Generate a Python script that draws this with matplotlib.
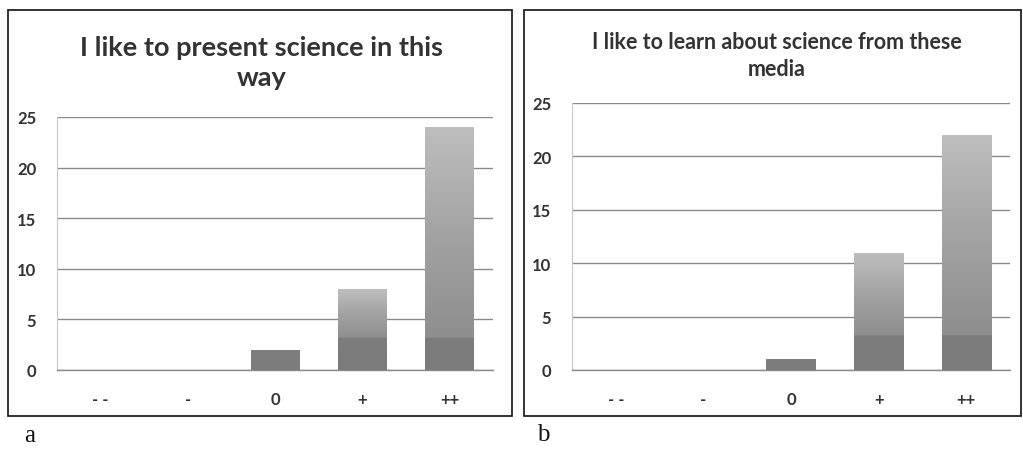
import numpy as np
import matplotlib
matplotlib.use("Agg")
import matplotlib.pyplot as plt
from matplotlib.patches import Rectangle
from matplotlib.colors import LinearSegmentedColormap

categories = ["- -", "-", "0", "+", "++"]
values_a = [0, 0, 2, 8, 24]
values_b = [0, 0, 1, 11, 22]
title_a = "I like to present science in this\nway"
title_b = "I like to learn about science from these\nmedia"
yticks = [0, 5, 10, 15, 20, 25]

W, H = 1023, 452
fig = plt.figure(figsize=(W / 100, H / 100), dpi=100)
fig.patch.set_facecolor("white")

FONT = ["Lato", "DejaVu Sans"]
cmap = LinearSegmentedColormap.from_list(
    "bar", [(0.0, "#7a7a7a"), (0.12, "#808080"), (0.14, "#8c8c8c"),
            (0.6, "#a4a4a4"), (1.0, "#bebebe")])


def px_rect(x0, y0, x1, y1):
    # pixel box (top-left origin) -> figure fraction [l, b, w, h]
    return [x0 / W, 1 - y1 / H, (x1 - x0) / W, (y1 - y0) / H]


def panel(frame_px, ax_px, values, title, title_xy, title_size, letter, letter_xy):
    l, b, w, h = px_rect(*frame_px)
    fig.patches.append(Rectangle((l, b), w, h, transform=fig.transFigure,
                                 fill=False, edgecolor="#222222", linewidth=1.3))
    ax = fig.add_axes(px_rect(*ax_px))
    x = np.arange(len(categories))
    bars = ax.bar(x, values, width=0.56, color="#999999", zorder=2)
    for bar in bars:
        hgt = bar.get_height()
        if hgt <= 0:
            continue
        bx, bw = bar.get_x(), bar.get_width()
        # darker band at the bottom (~3 units), gradient above
        grad = np.linspace(0, 1, 256).reshape(-1, 1)
        band = 3.2 / hgt
        img = np.where(grad < band, 0.03 + grad * 0.06,
                       0.18 + 0.82 * (grad - band) / max(1 - band, 1e-6))
        im = ax.imshow(img, cmap=cmap, vmin=0, vmax=1, origin="lower", aspect="auto",
                       extent=(bx, bx + bw, 0, hgt), zorder=3, interpolation="bilinear")
        im.set_clip_path(bar)
    ax.set_xlim(-0.5, len(categories) - 0.5)
    ax.set_ylim(0, 25)
    ax.set_yticks(yticks)
    ax.yaxis.grid(True, color="#8a8a8a", linewidth=1.0, zorder=0)
    ax.set_axisbelow(True)
    for s in ["top", "right"]:
        ax.spines[s].set_visible(False)
    ax.spines["left"].set_color("#c8c8c8")
    ax.spines["bottom"].set_color("#8a8a8a")
    ax.spines["bottom"].set_linewidth(1.0)
    ax.set_xticks(x)
    ax.set_xticklabels(categories)
    ax.tick_params(axis="both", length=0, labelsize=12, labelcolor="#333333")
    ax.tick_params(axis="x", pad=15)
    ax.tick_params(axis="y", pad=15)
    for t in ax.get_xticklabels() + ax.get_yticklabels():
        t.set_fontfamily(FONT)
        t.set_fontweight("bold")
    fig.text(title_xy[0] / W, 1 - title_xy[1] / H, title, ha="center", va="center",
             fontsize=title_size, fontweight="bold", color="#333333",
             family=FONT, linespacing=1.3)
    fig.text(letter_xy[0] / W, 1 - letter_xy[1] / H, letter, ha="center", va="center",
             fontsize=18, family=["Liberation Serif", "DejaVu Serif"], color="#111111")
    return ax


panel((8, 11, 512, 417), (57, 118, 493, 371), values_a, title_a, (262, 63), 19.5, "a", (30, 436))
panel((524, 11, 1021, 417), (572, 104, 1010, 371), values_b, title_b, (777, 56), 15.5, "b", (543, 435))

fig.savefig("out.png", dpi=100, facecolor="white")
